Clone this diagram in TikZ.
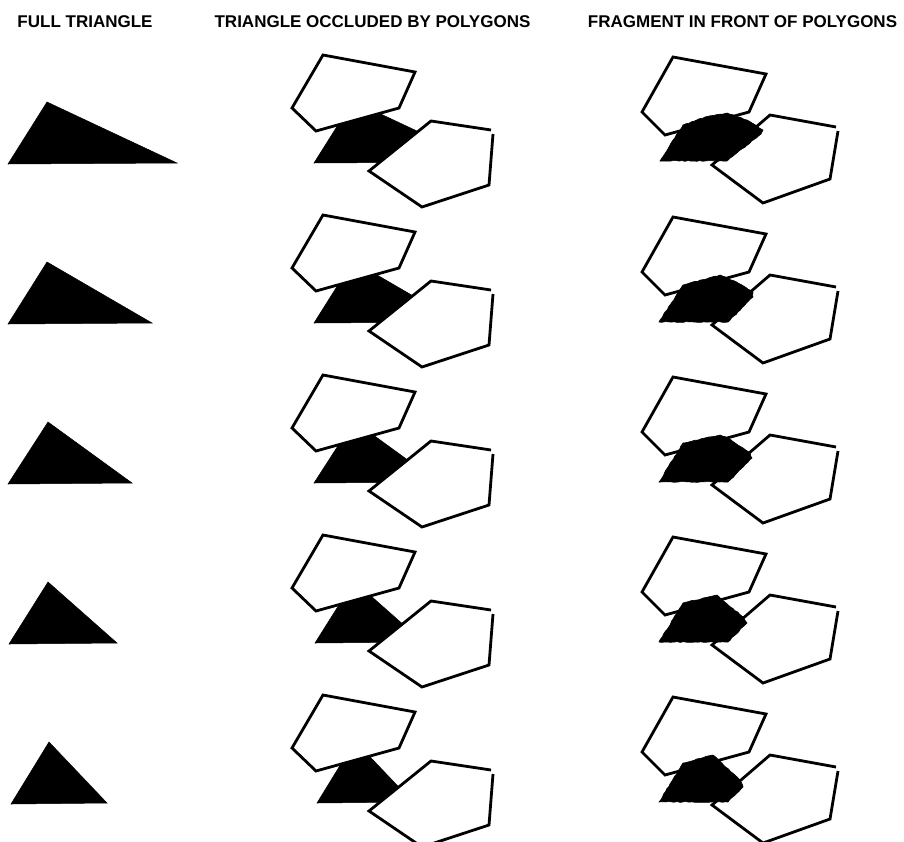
\documentclass[tikz,border=0pt]{standalone}
\usepackage{fontspec}
\setmainfont{Liberation Sans}
\usetikzlibrary{decorations.pathmorphing}
\begin{document}
\begin{tikzpicture}[x=1pt,y=-1pt,
  outline/.style={draw=black,fill=white,line width=2.8pt,line join=miter},
  solid tri/.style={fill=black,draw=black,line width=0.5pt},
  frag/.style={fill=black,draw=black,line width=0.6pt,decorate,decoration={random steps,segment length=3pt,amplitude=0.45pt}},
  header/.style={font=\bfseries\fontsize{17}{20}\selectfont,anchor=base}]
\useasboundingbox (0,0) rectangle (904,841);
\pgfmathsetseed{11}
\node[header] (h1) at (85,27) {FULL TRIANGLE};
\node[header] (h2) at (372.5,27) {TRIANGLE OCCLUDED BY POLYGONS};
\node[header] (h3) at (742.5,27) {FRAGMENT IN FRONT OF POLYGONS};
\foreach \k/\lx/\ax/\rx in {0/8/47/177,1/8/47/152,2/8/48/132,3/9/48/117,4/11/49/107}{
  \begin{scope}[shift={(0,160*\k)}]
    % full triangle
    \path[solid tri] (\lx,164) -- (\ax,102) -- (\rx,163) -- cycle;
    % occluded triangle
    \path[solid tri] (\lx+306,163) -- (\ax+306,101) -- (\rx+306,162) -- cycle;
    \path[outline] (323,55) -- (415,72) -- (399,108) -- (316,131) -- (292,108) -- cycle;
    \path[fill=white] (492,130) -- (489,185) -- (422,207) -- (369,171) -- (431,121) -- cycle;
    \draw[line width=2.8pt,line join=miter] (493,134) -- (489,185) -- (422,207) -- (369,171) -- (431,121) -- (491,130);
    % right column polygons
    \path[outline] (673,57) -- (766,74) -- (749,112) -- (665,135) -- (642,112) -- cycle;
    \path[fill=white] (837,127) -- (830,179) -- (763,203) -- (712,165) -- (770,115) -- cycle;
    \draw[line width=2.8pt,line join=miter] (838,131) -- (830,179) -- (763,203) -- (712,165) -- (770,115) -- (836,127);
  \end{scope}
}
% fragments
\path[frag] (660,161) -- (683,125) -- (705,117) -- (727,113) -- (747,120) -- (763,130) -- (761,134) -- (727,161) -- cycle;
\begin{scope}[shift={(0,160)}]
\path[frag] (659,162) -- (683,125) -- (720,115) -- (738,123) -- (753,132) -- (753,137) -- (728,162) -- cycle;
\end{scope}
\begin{scope}[shift={(0,320)}]
\path[frag] (659,162) -- (683,123) -- (720,115) -- (728,118) -- (750,133) -- (752,138) -- (728,162) -- cycle;
\end{scope}
\begin{scope}[shift={(0,480)}]
\path[frag] (659,162) -- (683,123) -- (717,115) -- (743,137) -- (747,143) -- (728,162) -- cycle;
\end{scope}
\begin{scope}[shift={(0,640)}]
\path[frag] (659,162) -- (683,123) -- (713,115) -- (740,140) -- (743,147) -- (728,162) -- cycle;
\end{scope}
\end{tikzpicture}
\end{document}
